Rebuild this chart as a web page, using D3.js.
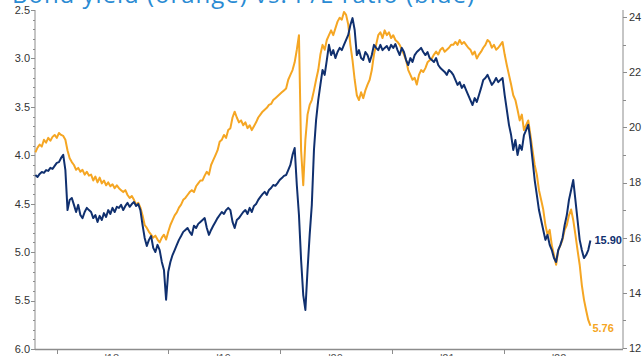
<!DOCTYPE html>
<html><head><meta charset="utf-8">
<script src="https://cdn.jsdelivr.net/npm/d3@7"></script>
<style>html,body{margin:0;padding:0;background:#fff;}svg{display:block;}</style>
</head><body>
<svg id="chart" width="643" height="356"></svg>
<script>
// ---- data (weekly, starting 2017-10-24) ----
const startDate = "2017-10-24";
const weekStep = 7;
const titleText = "Bond yield (orange) vs. P/E ratio (blue)";
const leftTicks = [2.5, 3.0, 3.5, 4.0, 4.5, 5.0, 5.5, 6.0];
const rightTicks = [12, 14, 16, 18, 20, 22, 24];
const yearTicks = ["2018-01-01","2019-01-01","2020-01-01","2021-01-01","2022-01-01"];
const yearLabels = ["'18","'19","'20","'21","'22"];
const yearLabelDates = ["2018-07-01","2019-07-01","2020-07-01","2021-07-01","2022-07-01"];

const peRatio = [
 18.27,18.20,18.31,18.38,18.35,18.45,18.42,18.53,18.49,18.60,18.71,18.74,18.89,
 19.00,18.45,17.00,17.37,17.44,17.19,16.93,17.19,16.82,16.71,16.93,17.08,17.00,
 16.93,16.71,16.82,16.57,16.79,16.64,16.89,16.75,17.00,16.86,17.08,16.93,17.12,
 17.08,17.19,17.00,17.15,17.26,17.12,17.22,17.29,17.15,17.22,17.00,16.46,15.99,
 15.70,15.92,16.06,15.63,15.48,15.74,15.55,15.12,14.83,13.75,14.76,15.12,15.37,
 15.55,15.74,15.92,16.06,16.21,16.28,16.35,16.21,16.10,16.43,16.35,16.50,16.57,
 16.64,16.71,16.35,16.10,16.28,16.43,16.57,16.71,16.82,16.93,16.86,17.00,17.08,
 17.00,16.57,16.35,16.64,16.71,16.82,16.93,17.00,16.86,17.08,16.93,17.15,17.22,
 17.37,17.48,17.58,17.66,17.55,17.73,17.80,17.91,17.88,17.98,18.09,18.16,18.24,
 18.27,18.45,18.64,19.00,19.25,17.91,16.82,15.19,13.92,13.38,14.83,16.10,17.19,
 19.18,20.27,20.99,21.54,22.08,21.90,22.44,22.99,22.62,22.80,22.51,22.73,22.88,
 22.80,22.99,23.17,23.35,23.71,23.96,23.53,22.62,22.80,22.51,22.44,22.73,22.62,
 22.37,22.62,22.99,22.88,22.80,22.99,22.80,22.88,22.95,22.80,22.99,22.88,23.02,
 22.80,22.62,22.88,22.73,22.44,22.26,22.51,22.37,22.62,22.73,22.80,22.88,22.73,
 22.62,22.73,22.51,22.44,22.37,22.51,22.26,22.15,22.08,22.01,21.90,22.08,22.01,
 21.90,21.72,21.54,21.64,21.43,21.54,21.35,21.17,20.99,20.81,21.06,20.92,21.17,
 21.43,21.72,21.79,21.90,21.72,21.54,21.64,21.79,21.64,21.72,21.79,21.17,20.63,
 20.09,19.72,19.18,19.54,19.00,19.36,19.18,19.72,19.90,20.09,19.54,18.82,18.09,
 17.55,17.00,16.64,16.28,15.92,16.10,15.74,15.55,15.26,15.12,15.55,15.74,15.99,
 16.46,16.82,17.37,17.73,18.09,17.37,16.64,15.92,15.55,15.26,15.37,15.55,15.90
];

const yieldPct = [
 3.97,3.92,3.89,3.91,3.84,3.87,3.82,3.85,3.81,3.79,3.82,3.77,3.79,
 3.80,3.84,3.95,4.03,4.07,4.10,4.15,4.13,4.17,4.15,4.20,4.17,4.21,
 4.20,4.26,4.22,4.28,4.23,4.29,4.26,4.31,4.28,4.32,4.30,4.34,4.31,
 4.34,4.36,4.38,4.36,4.41,4.44,4.42,4.46,4.51,4.49,4.54,4.62,4.72,
 4.75,4.79,4.82,4.85,4.83,4.87,4.90,4.85,4.82,4.87,4.79,4.72,4.67,
 4.62,4.59,4.54,4.51,4.46,4.44,4.41,4.38,4.36,4.38,4.32,4.29,4.26,
 4.26,4.21,4.17,4.20,4.10,4.05,4.00,3.95,3.86,3.84,3.79,3.82,3.74,
 3.72,3.61,3.55,3.61,3.66,3.64,3.69,3.66,3.72,3.69,3.74,3.70,3.66,
 3.61,3.58,3.55,3.53,3.51,3.48,3.47,3.43,3.41,3.39,3.37,3.35,3.33,
 3.31,3.22,3.17,3.12,3.04,2.91,2.76,3.95,4.31,3.84,3.58,3.48,3.43,
 3.33,3.22,3.12,2.96,2.86,2.91,2.81,2.76,2.71,2.76,2.69,2.62,2.58,
 2.60,2.52,2.55,2.65,2.86,3.02,3.22,3.38,3.43,3.35,3.41,3.33,3.27,
 3.22,3.12,2.96,2.86,2.76,2.73,2.79,2.71,2.76,2.73,2.79,2.76,2.81,
 2.83,2.86,2.91,2.96,3.02,3.12,3.17,3.22,3.20,3.27,3.17,3.12,3.14,
 3.10,3.04,3.02,3.00,2.96,2.93,2.96,2.91,2.89,2.93,2.91,2.89,2.86,
 2.86,2.83,2.86,2.81,2.85,2.83,2.86,2.89,2.91,2.96,2.93,3.00,2.96,
 2.93,2.89,2.86,2.81,2.83,2.89,2.86,2.91,2.89,2.86,2.83,2.96,3.07,
 3.17,3.27,3.38,3.43,3.53,3.64,3.58,3.74,3.69,3.64,3.79,3.95,4.10,
 4.20,4.36,4.46,4.56,4.72,4.82,4.77,4.93,5.03,5.13,4.98,4.93,4.87,
 4.77,4.72,4.62,4.56,4.67,4.82,4.98,5.13,5.34,5.49,5.60,5.70,5.76
];

// ---- chart ----
const svg = d3.select("#chart");
const parse = d3.timeParse("%Y-%m-%d");
const t0 = parse(startDate);
const dates = d3.range(peRatio.length).map(i => d3.timeDay.offset(t0, i * weekStep));

const plotL = 35, plotR = 623, plotT = 10, plotB = 349;
const navy = "#10306f", orange = "#f5a623", axisCol = "#8c8c8c", textCol = "#333";

const x = d3.scaleTime().domain([parse("2018-01-01"), parse("2023-01-01")]).range([56.5, 615.5]);
const yL = d3.scaleLinear().domain([2.5, 6.0]).range([plotT, plotB]);
const yR = d3.scaleLinear().domain([12, 24]).range([348, 17]);

// title (partly cut off at top)
svg.append("text").attr("x", 12).attr("y", 3)
  .attr("font-family", "Open Sans, Segoe UI, sans-serif").attr("font-size", 24)
  .attr("fill", "#2a8bd3").attr("textLength", 462).attr("lengthAdjust", "spacing")
  .text(titleText);

// left axis
const gL = svg.append("g").attr("transform", `translate(${plotL},0)`);
gL.append("line").attr("x1", 0).attr("x2", 0).attr("y1", plotT).attr("y2", plotB).attr("stroke", axisCol);
const minorL = d3.range(25, 61).map(d => d / 10);
gL.selectAll("line.mn").data(minorL).join("line").attr("class","mn")
  .attr("x1", -2).attr("x2", 0).attr("y1", d => Math.round(yL(d)) + 0.5).attr("y2", d => Math.round(yL(d)) + 0.5)
  .attr("stroke", axisCol);
gL.selectAll("line.mj").data(leftTicks).join("line").attr("class","mj")
  .attr("x1", -4).attr("x2", 0).attr("y1", d => Math.round(yL(d)) + 0.5).attr("y2", d => Math.round(yL(d)) + 0.5)
  .attr("stroke", axisCol);
gL.selectAll("text").data(leftTicks).join("text")
  .attr("x", -5).attr("y", d => yL(d)).attr("dy", "0.35em").attr("text-anchor", "end")
  .attr("font-family", "Arial, Liberation Sans, sans-serif").attr("font-size", 11).attr("fill", textCol)
  .text(d => d3.format(".1f")(d));

// right axis
const gR = svg.append("g").attr("transform", `translate(${plotR},0)`);
gR.append("line").attr("x1", 0).attr("x2", 0).attr("y1", plotT).attr("y2", plotB).attr("stroke", axisCol);
const minorR = d3.range(13, 24, 2);
gR.selectAll("line.mn").data(minorR).join("line").attr("class","mn")
  .attr("x1", 0).attr("x2", 3).attr("y1", d => Math.round(yR(d)) + 0.5).attr("y2", d => Math.round(yR(d)) + 0.5)
  .attr("stroke", axisCol);
gR.selectAll("line.mj").data(rightTicks).join("line").attr("class","mj")
  .attr("x1", 0).attr("x2", 4).attr("y1", d => Math.round(yR(d)) + 0.5).attr("y2", d => Math.round(yR(d)) + 0.5)
  .attr("stroke", axisCol);
gR.selectAll("text").data(rightTicks).join("text")
  .attr("x", 6).attr("y", d => yR(d)).attr("dy", "0.35em").attr("text-anchor", "start")
  .attr("font-family", "Arial, Liberation Sans, sans-serif").attr("font-size", 11).attr("fill", textCol)
  .text(d => d);

// bottom axis
svg.append("line").attr("x1", plotL).attr("x2", plotR).attr("y1", plotB + 0.5).attr("y2", plotB + 0.5)
  .attr("stroke", axisCol).attr("stroke-width", 1.5);
svg.selectAll("line.xt").data(yearTicks).join("line").attr("class","xt")
  .attr("x1", d => Math.round(x(parse(d))) + 0.5).attr("x2", d => Math.round(x(parse(d))) + 0.5)
  .attr("y1", plotB).attr("y2", plotB + 5).attr("stroke", axisCol);
svg.selectAll("text.xl").data(yearLabels).join("text").attr("class","xl")
  .attr("x", (d, i) => x(parse(yearLabelDates[i]))).attr("y", 362).attr("text-anchor", "middle")
  .attr("font-family", "Arial, Liberation Sans, sans-serif").attr("font-size", 11).attr("fill", "#555")
  .text(d => d);

// lines
const lineL = d3.line().x((d, i) => x(dates[i])).y(d => yL(d)).curve(d3.curveLinear);
const lineR = d3.line().x((d, i) => x(dates[i])).y(d => yR(d)).curve(d3.curveLinear);

svg.append("path").datum(yieldPct).attr("d", lineL).attr("fill", "none")
  .attr("stroke", orange).attr("stroke-width", 2).attr("stroke-linejoin", "round");
svg.append("path").datum(peRatio).attr("d", lineR).attr("fill", "none")
  .attr("stroke", navy).attr("stroke-width", 2).attr("stroke-linejoin", "round");

// end labels
const n = peRatio.length - 1;
svg.append("text").attr("x", x(dates[n]) + 4).attr("y", yR(peRatio[n])).attr("dy", "0.35em")
  .attr("font-family", "Arial, Liberation Sans, sans-serif").attr("font-size", 11).attr("font-weight", "bold")
  .attr("fill", navy).text(d3.format(".2f")(peRatio[n]));
svg.append("text").attr("x", x(dates[n]) + 2).attr("y", yL(yieldPct[n]) + 2).attr("dy", "0.35em")
  .attr("font-family", "Arial, Liberation Sans, sans-serif").attr("font-size", 11).attr("font-weight", "bold")
  .attr("fill", orange).text(d3.format(".2f")(yieldPct[n]));
</script>
</body></html>
